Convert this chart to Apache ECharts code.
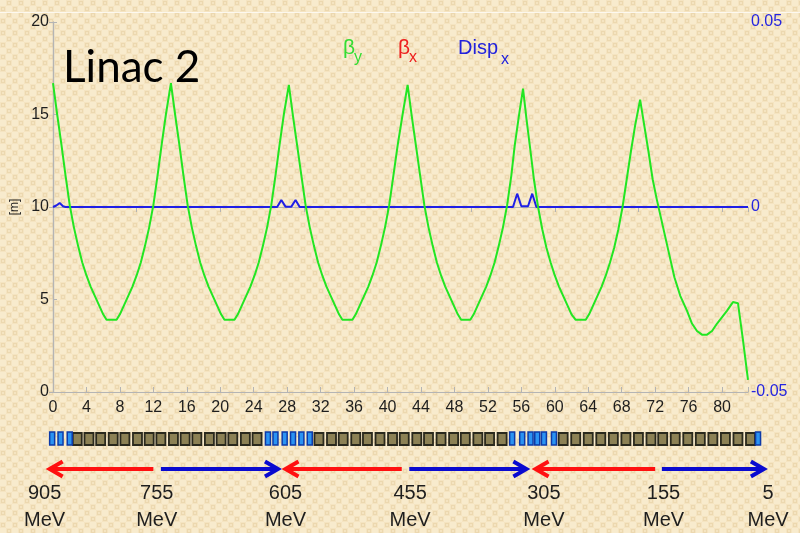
<!DOCTYPE html>
<html>
<head>
<meta charset="utf-8">
<script src="https://cdn.jsdelivr.net/npm/echarts@6/dist/echarts.min.js"></script>
<style>html,body{margin:0;padding:0;}#c{width:800px;height:533px;}</style>
</head>
<body>
<div id="c"></div>
<script>
// ---------- data ----------
const xTickLabels = [0,4,8,12,16,20,24,28,32,36,40,44,48,52,56,60,64,68,72,76,80];
const betaY = [
  [0,16.7],[0.5,15.0],[1.0,13.4],[1.5,11.7],[2.0,10.1],[2.5,8.9],[3.0,7.9],[3.5,7.0],[4.0,6.3],[4.5,5.7],[5.0,5.2],[5.5,4.7],[6.0,4.2],[6.4,3.9],[7.6,3.9],[8.0,4.2],[8.5,4.7],[9.0,5.2],[9.5,5.7],[10.0,6.3],[10.5,7.0],[11.0,7.9],[11.5,8.9],[12.0,10.1],[12.5,11.7],[13.0,13.4],[13.5,15.0],[14.1,16.7],
  [14.6,15.0],[15.1,13.4],[15.6,11.7],[16.1,10.1],[16.6,8.9],[17.1,7.9],[17.6,7.0],[18.1,6.3],[18.6,5.7],[19.1,5.2],[19.6,4.7],[20.1,4.2],[20.5,3.9],[21.7,3.9],[22.1,4.2],[22.6,4.7],[23.1,5.2],[23.6,5.7],[24.1,6.3],[24.6,7.0],[25.1,7.9],[25.6,8.9],[26.1,10.1],[26.6,11.7],[27.1,13.4],[27.6,15.0],[28.2,16.6],
  [28.7,14.9],[29.2,13.3],[29.7,11.7],[30.2,10.1],[30.7,8.9],[31.2,7.9],[31.7,7.0],[32.2,6.3],[32.7,5.7],[33.2,5.2],[33.7,4.7],[34.2,4.2],[34.6,3.9],[35.8,3.9],[36.2,4.2],[36.7,4.7],[37.2,5.2],[37.7,5.7],[38.2,6.3],[38.7,7.0],[39.2,7.9],[39.7,8.9],[40.2,10.1],[40.7,11.7],[41.2,13.3],[41.8,15.0],[42.4,16.6],
  [42.9,14.9],[43.4,13.3],[43.9,11.7],[44.4,10.1],[44.9,8.9],[45.4,7.9],[45.9,7.0],[46.4,6.3],[46.9,5.7],[47.4,5.2],[47.9,4.7],[48.4,4.2],[48.8,3.9],[49.9,3.9],[50.3,4.2],[50.8,4.7],[51.3,5.2],[51.8,5.7],[52.3,6.3],[52.8,7.0],[53.3,7.9],[53.8,8.9],[54.3,10.1],[54.8,11.7],[55.2,13.3],[55.7,14.9],[56.2,16.4],
  [56.6,14.8],[57.1,13.0],[57.5,11.5],[58.0,10.0],[58.5,8.8],[59.0,7.8],[59.5,7.0],[60.0,6.3],[60.5,5.7],[61.0,5.2],[61.5,4.7],[62.0,4.2],[62.5,3.9],[63.7,3.9],[64.1,4.2],[64.6,4.7],[65.1,5.2],[65.6,5.7],[66.1,6.3],[66.6,7.0],[67.1,7.8],[67.6,8.8],[68.1,10.0],[68.6,11.5],[69.1,13.0],[69.6,14.4],[70.2,15.8],
  [70.7,14.4],[71.2,13.0],[71.7,11.5],[72.2,10.4],[72.7,9.4],[73.2,8.4],[73.7,7.4],[74.3,6.2],[75.0,5.2],[75.8,4.4],[76.4,3.7],[77.0,3.3],[77.6,3.1],[78.2,3.1],[78.8,3.3],[79.4,3.7],[80.0,4.05],[80.6,4.4],[81.3,4.86],[81.9,4.8],[82.5,2.8],[83.1,0.65]
];
const dispX = [
  [0,0],[0.4,0.0004],[0.8,0.0011],[1.2,0.0002],[1.5,0],
  [26.8,0],[27.3,0.0019],[27.8,0.0001],[28.5,0.0001],[29.0,0.0019],[29.5,0],
  [55.0,0],[55.5,0.0036],[56.0,0.0002],[56.8,0.0002],[57.3,0.0036],[57.8,0],[83.1,0]
];
// lattice: quadrupole-like (olive) and corrector-like (blue) element positions
const oliveElems = [2.9,4.3,5.7,7.2,8.6,10.1,11.5,12.9,14.4,15.8,17.2,18.7,20.1,21.5,23.0,24.4,
  31.8,33.3,34.7,36.2,37.6,39.1,40.6,42.0,43.5,44.9,46.4,47.9,49.3,50.8,52.2,53.7,
  61.0,62.5,64.0,65.5,67.0,68.5,70.0,71.5,72.9,74.4,75.9,77.4,78.9,80.4,81.9,83.4];
const blueElems = [-0.1,0.9,2.0,25.7,26.6,27.7,28.7,29.7,30.7,54.9,56.1,57.1,57.9,58.7,59.9,84.3];
// arrows: [tail, tip]
const arrows = [[12.0,-0.4],[12.9,26.9],[41.7,27.8],[42.6,56.6],[72.0,57.7],[72.8,85.0]];
const energyPos = [-1.0,12.4,27.8,42.7,58.7,73.0,85.5];
const energyVal = ['905','755','605','455','305','155','5'];

// ---------- background pattern ----------
const pc = document.createElement('canvas');
pc.width = 12; pc.height = 12;
const g = pc.getContext('2d');
g.fillStyle = '#f5e4c1'; g.fillRect(0,0,12,12);
g.fillStyle = '#f8ebcd'; g.fillRect(0,0,6,6); g.fillRect(6,6,6,6);
g.strokeStyle = '#ecd8af'; g.lineWidth = 1;
g.strokeRect(7.5,1.5,3,3); g.strokeRect(1.5,7.5,3,3);

const latticeData = oliveElems.map(x => [x, 0]).concat(blueElems.map(x => [x, 1]));
const energyData = energyPos.map((x, i) => [x, energyVal[i]]);

const chart = echarts.init(document.getElementById('c'), null, {renderer: 'canvas'});
const axisGray = '#b4b4b4';
const txt = '#1e1e1e';
const font = 'Liberation Sans';

function lt(text, left, top, color, size) {
  return {text: text, left: left, top: top, padding: 0,
    textStyle: {fontFamily: font, fontSize: size, fontWeight: 'normal', color: color}};
}

chart.setOption({
  backgroundColor: {image: pc, repeat: 'repeat'},
  animation: false,
  graphic: [{type:'rect', shape:{x:0, y:12, width:800, height:1}, style:{fill:'rgba(255,255,255,0.7)'}, silent:true}],
  title: [
    {text: 'Linac 2', left: 58, top: 41, textStyle: {fontFamily: 'Lato', fontSize: 44, fontWeight: 'normal', color: '#000'}},
    lt('β', 343, 38, '#33dd33', 21), lt('y', 354, 50, '#33dd33', 16),
    lt('β', 398, 38, '#ee2020', 21), lt('x', 409, 50, '#ee2020', 16),
    lt('Disp', 458, 38, '#2222dd', 20), lt('x', 501, 52, '#2222dd', 16)
  ],
  grid: [
    {left: 53, right: 52, top: 22, bottom: 141},
    {left: 53, right: 52, top: 425, height: 108}
  ],
  xAxis: [
    {gridIndex: 0, type: 'value', min: 0, max: 83.1, interval: 4, position: 'bottom',
     axisLine: {lineStyle: {color: axisGray, width: 1.2}},
     axisTick: {inside: true, length: 5, lineStyle: {color: axisGray}},
     axisLabel: {fontFamily: font, fontSize: 16, color: txt, margin: 8,
       formatter: v => (xTickLabels.indexOf(v) >= 0 ? String(v) : '')},
     splitLine: {show: false}},
    {gridIndex: 0, type: 'value', min: 0, max: 83.1, interval: 10, position: 'top',
     axisLine: {lineStyle: {color: axisGray, width: 1.2}},
     axisTick: {inside: true, length: 5, lineStyle: {color: axisGray}},
     axisLabel: {show: false}, splitLine: {show: false}},
    {gridIndex: 1, type: 'value', min: 0, max: 83.1, show: false}
  ],
  yAxis: [
    {gridIndex: 0, type: 'value', min: 0, max: 20, interval: 5, position: 'left',
     name: '[m]', nameLocation: 'middle', nameGap: 28, nameRotate: 90,
     nameTextStyle: {fontFamily: font, fontSize: 12, color: txt},
     axisLine: {show: true, lineStyle: {color: axisGray, width: 1.2}},
     axisTick: {show: true, inside: true, length: 4, lineStyle: {color: axisGray}},
     axisLabel: {fontFamily: font, fontSize: 16, color: txt, margin: 4},
     splitLine: {show: false}},
    {gridIndex: 0, type: 'value', min: -0.05, max: 0.05, interval: 0.05, position: 'right',
     axisLine: {show: true, lineStyle: {color: axisGray, width: 1.2}},
     axisTick: {show: true, inside: true, length: 4, lineStyle: {color: axisGray}},
     axisLabel: {fontFamily: font, fontSize: 16, color: '#2525e0', margin: 3,
       formatter: v => (Math.abs(v) < 1e-9 ? '0' : (v > 0 ? '0.05' : '-0.05'))},
     splitLine: {show: false}},
    {gridIndex: 1, type: 'value', min: 0, max: 1, show: false}
  ],
  series: [
    {type: 'line', name: 'Dispx', xAxisIndex: 0, yAxisIndex: 1, data: dispX, showSymbol: false,
     lineStyle: {color: '#1f1fe6', width: 2}, z: 3},
    {type: 'line', name: 'βy', xAxisIndex: 0, yAxisIndex: 0, data: betaY, showSymbol: false,
     lineStyle: {color: '#22e622', width: 2}, z: 4},
    {type: 'custom', xAxisIndex: 2, yAxisIndex: 2, data: latticeData, clip: false,
     renderItem: function (params, api) {
       const cx = api.coord([api.value(0), 0])[0];
       const top = params.coordSys.y;
       if (api.value(1) === 0) {
         return {type: 'rect', shape: {x: cx - 4.5, y: top + 8, width: 9, height: 12},
           style: {fill: '#8c8155', stroke: '#2a291d', lineWidth: 1.8}};
       }
       return {type: 'rect', shape: {x: cx - 2.5, y: top + 7, width: 5, height: 13},
         style: {fill: '#2b93f2', stroke: '#0d3aa8', lineWidth: 1.5}};
     }},
    {type: 'custom', xAxisIndex: 2, yAxisIndex: 2, data: arrows, clip: false,
     renderItem: function (params, api) {
       const tail = api.coord([api.value(0), 0])[0];
       const tip = api.coord([api.value(1), 0])[0];
       const y = params.coordSys.y + 44;
       const s = tail > tip ? 1 : -1;
       const col = tail > tip ? '#ff1010' : '#0a0ad0';
       return {type: 'group', children: [
         {type: 'line', shape: {x1: tail, y1: y, x2: tip + s * 2, y2: y}, style: {stroke: col, lineWidth: 4}},
         {type: 'polyline', shape: {points: [[tip + s * 13, y - 7.5], [tip, y], [tip + s * 13, y + 7.5]]},
          style: {stroke: col, lineWidth: 4, fill: null, lineJoin: 'miter'}}
       ]};
     }},
    {type: 'custom', xAxisIndex: 2, yAxisIndex: 2, data: energyData, clip: false,
     renderItem: function (params, api) {
       const cx = api.coord([api.value(0), 0])[0];
       const top = params.coordSys.y;
       const label = energyVal[params.dataIndex];
       return {type: 'group', children: [
         {type: 'text', style: {text: label, x: cx, y: top + 68, align: 'center', verticalAlign: 'middle',
           font: '20px "Liberation Sans"', fill: txt}},
         {type: 'text', style: {text: 'MeV', x: cx, y: top + 95, align: 'center', verticalAlign: 'middle',
           font: '20px "Liberation Sans"', fill: txt}}
       ]};
     }}
  ]
});
</script>
</body>
</html>
